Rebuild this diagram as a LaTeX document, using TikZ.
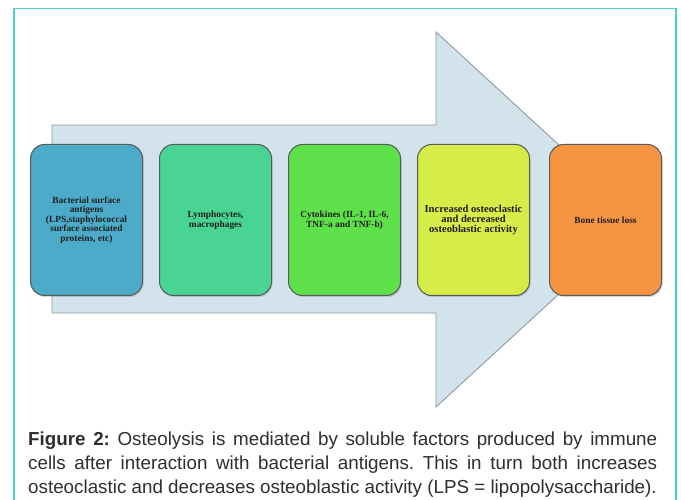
\documentclass[tikz,border=0pt]{standalone}
\usepackage{fontspec}
\setmainfont{Liberation Serif}
\newfontfamily\capfont{Liberation Sans}
\usetikzlibrary{positioning,shadows}
\definecolor{oframe}{HTML}{4FD0C0}
\definecolor{oarrow}{HTML}{D3E3EB}
\definecolor{oarrline}{HTML}{8E9AA2}
\definecolor{oblue}{HTML}{4BABC9}
\definecolor{omint}{HTML}{49D494}
\definecolor{ogreen}{HTML}{5EE04A}
\definecolor{olime}{HTML}{D6EC48}
\definecolor{oorange}{HTML}{F59443}
\definecolor{ocaption}{HTML}{2E2E2E}
\frenchspacing

\begin{document}
\begin{tikzpicture}[x=1pt,y=-1pt,node distance=16pt]
    \tikzset{phase/.style={draw=black!65,line width=1pt,rounded corners=14pt,minimum width=112pt,minimum height=151pt,align=center,font=\fontsize{9.4}{9.6}\selectfont\bfseries,text=black!88,drop shadow={opacity=.35,shadow xshift=1.2pt,shadow yshift=-1.5pt}}}
    \clip (0,0) rectangle (681,500);
    \draw[oframe,line width=1.6pt] (14,8.5) rectangle (676,520);
    % big arrow behind the stages
    \draw[oarrline,fill=oarrow,line width=.9pt] (52,125) -- (436,125) -- (436,32) -- (640,219.5) -- (436,407) -- (436,313) -- (52,313) -- cycle;
    \node[phase,fill=oblue] (antigen) at (86.5,220) {Bacterial surface\\antigens\\(LPS,staphylococcal\\surface associated\\proteins, etc)};
    \node[phase,fill=omint,right=of antigen] (cells) {Lymphocytes,\\macrophages};
    \node[phase,fill=ogreen,right=of cells] (cytokine) {Cytokines (IL-1, IL-6,\\TNF-a and TNF-b)};
    \node[phase,fill=olime,right=of cytokine,font=\fontsize{10.6}{10.4}\selectfont\bfseries] (activity) {Increased osteoclastic\\and decreased\\osteoblastic activity};
    \node[phase,fill=oorange,right=19pt of activity] (loss) {Bone tissue loss};
    \node[anchor=north west,inner sep=0pt,text width=629pt,align=justify,text=ocaption,font=\capfont\fontsize{18.8}{24}\selectfont] (caption) at (28,432) {{\bfseries Figure 2:} Osteolysis is mediated by soluble factors produced by immune\linebreak cells after interaction with bacterial antigens. This in turn both increases\linebreak osteoclastic and decreases osteoblastic activity (LPS = lipopolysaccharide).};
  \end{tikzpicture}
\end{document}
